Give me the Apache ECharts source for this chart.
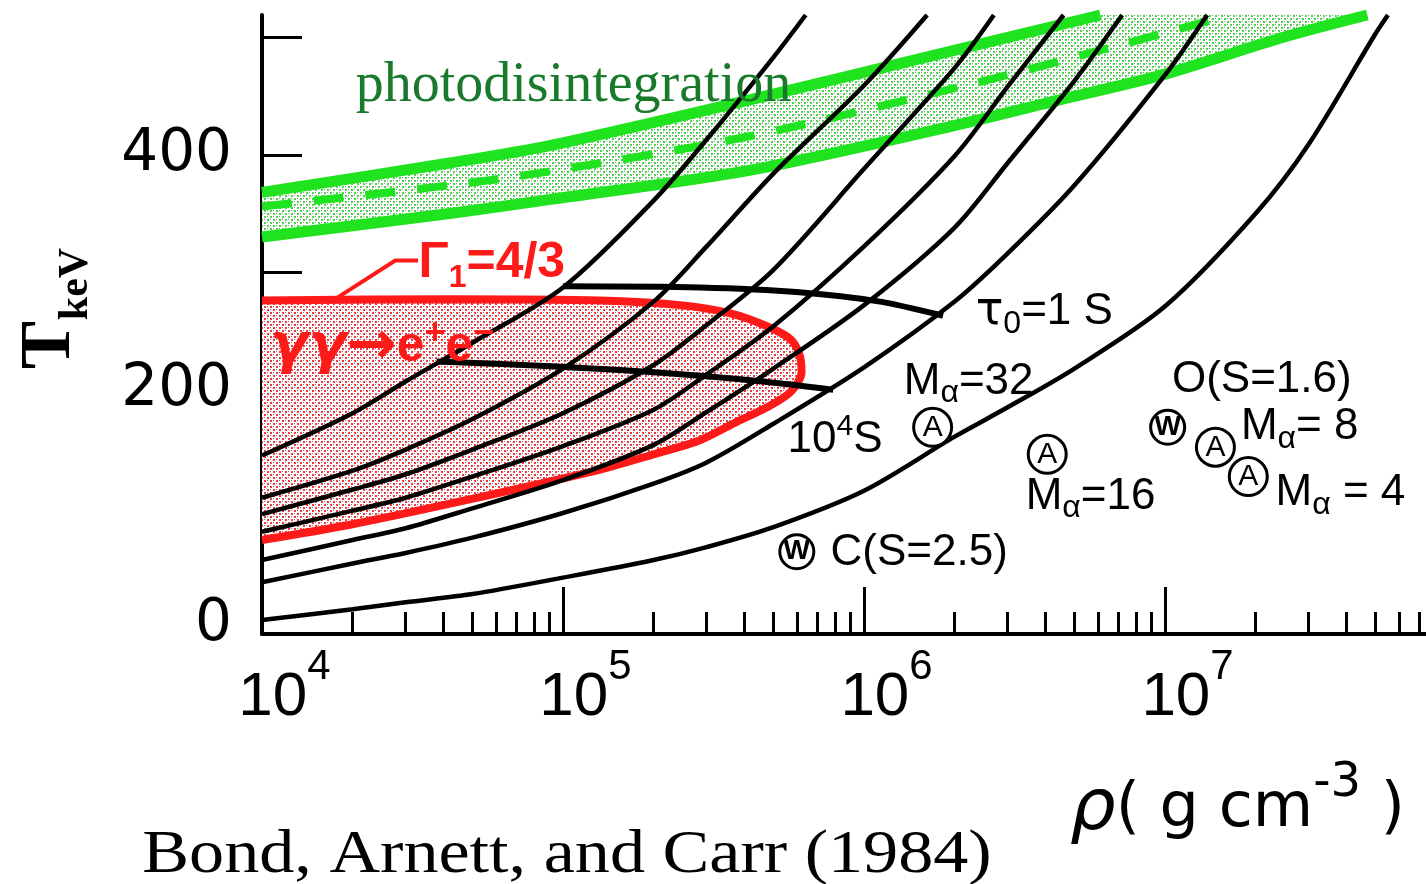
<!DOCTYPE html>
<html>
<head>
<meta charset="utf-8">
<title>Bond, Arnett and Carr (1984)</title>
<script src="https://cdn.jsdelivr.net/npm/echarts@6/dist/echarts.min.js"></script>
<style>
  html, body { margin: 0; padding: 0; background: #fff; }
  #chart { width: 1426px; height: 884px; }
</style>
</head>
<body>
<div id="chart"></div>
<script>
// density rho (g cm^-3) and temperature T (keV)

// core trajectories, top-left to bottom-right
const curve1Rho = [1e4, 2e4, 3e4, 5e4, 1e5, 2e5, 3e5, 5e5, 6.4e5];
const curve1T = [144, 180, 207, 240, 287, 361, 413, 483, 519];
const curve2Rho = [1e4, 2e4, 3e4, 5e4, 1e5, 2e5, 3e5, 5e5, 1e6, 1.62e6];
const curve2T = [108, 131, 149, 175, 218, 275, 322, 384, 459, 519];
const curve3Rho = [1e4, 2e4, 3e4, 5e4, 1e5, 2e5, 3e5, 5e5, 1e6, 2e6, 2.7e6];
const curve3T = [94, 115, 128, 149, 180, 221, 255, 302, 388, 474, 519];
const curve4Rho = [1e4, 2e4, 3e4, 5e4, 1e5, 2e5, 3e5, 5e5, 1e6, 2e6, 3e6, 4.6e6];
const curve4T = [79, 97, 108, 126, 152, 183, 213, 254, 322, 399, 458, 519];
const curve5Rho = [1e4, 2e4, 3e4, 5e4, 1e5, 2e5, 3e5, 5e5, 1e6, 2e6, 3e6, 5e6, 7.2e6];
const curve5T = [55, 72, 82, 99, 123, 153, 181, 218, 272, 338, 393, 463, 519];
const curve6Rho = [1e4, 2e4, 3e4, 5e4, 1e5, 2e5, 3e5, 5e5, 1e6, 2e6, 3e6, 5e6, 1e7, 1.38e7];
const curve6T = [36, 52, 61, 74, 95, 120, 138, 171, 219, 275, 316, 374, 468, 519];
const curve7Rho = [1e4, 2e4, 3e4, 5e4, 1e5, 2e5, 3e5, 5e5, 1e6, 2e6, 3e6, 5e6, 1e7, 2e7, 3e7, 5e7, 5.5e7];
const curve7T = [4, 13, 19, 26, 40, 55, 66, 83, 114, 160, 185, 218, 271, 350, 409, 503, 519];

// time-to-collapse lines
const tauUpperRho = [1e5, 2.85e5, 6.1e5, 1.13e6, 1.83e6];
const tauUpperT = [288, 287, 283, 275, 263];
const tauLowerRho = [3.8e4, 9.1e4, 1.95e5, 4.2e5, 7.9e5];
const tauLowerT = [224, 220, 215, 208, 200];

// photodisintegration band
const photoUpperRho = [1e4, 4.2e4, 9.1e4, 4.2e5, 1.93e6, 6.1e6];
const photoUpperT = [368, 393, 408, 447, 488, 519];
const photoMidRho = [1e4, 4.2e4, 9.1e4, 4.2e5, 2.25e6, 6.1e6, 1.64e7];
const photoMidT = [356, 374, 386, 416, 460, 489, 519];
const photoLowerRho = [1e4, 4.2e4, 9.1e4, 4.2e5, 1.93e6, 4.5e6, 9.8e6, 2.47e7, 4.7e7];
const photoLowerT = [330, 350, 362, 387, 424, 447, 468, 500, 519];

// pair instability region (gamma gamma -> e+ e-)
const pairRho = [1e4, 4.2e4, 1.33e5, 2.45e5, 3.6e5, 4.76e5, 5.7e5, 6.1e5, 6.2e5, 5.7e5, 4.76e5, 3.8e5, 2.85e5, 2.0e5, 1.33e5, 4.4e4, 1.96e4, 1e4];
const pairT = [276, 277, 276, 272, 265, 254, 243, 230, 215, 198, 185, 173, 157, 145, 132, 104, 85, 72];

// Gamma_1 = 4/3 arrow
const arrowRho = [3.3e4, 2.77e4, 1.77e4];
const arrowT = [310, 310, 278];

// circled model points
const aRho = [1.69e6, 4.06e6, 1.47e7, 1.89e7];
const aT = [168, 145, 151, 126];
const wRho = [5.98e5, 1.02e7];
const wT = [62, 168];

// annotations
const noteRho = [2.34e6, 1.35e6, 5.55e5, 3.43e6, 7.71e5, 1.05e7, 1.78e7, 2.32e7];
const noteT = [266, 207, 157, 109, 61, 208, 168, 112];
const noteText = ['{g|τ}{s|0}{t|=1 S}', '{t|M}{s|α}{t|=32}', '{t|10}{p|4}{t|S}', '{t|M}{s|α}{t|=16}',
  '{t|C(S=2.5)}', '{t|O(S=1.6)}', '{t|M}{s|α}{t|= 8}', '{t|M}{s|α}{t| = 4}'];
const redNoteRho = [3.3e4, 1.06e4];
const redNoteT = [308, 236];
const redNoteText = ['{t|Γ}{s|1}{t|=4/3}', '{g|γγ}{a|→}{t|e}{p|+}{t|e}{p|−}'];
const greenNoteRho = [2.04e4];
const greenNoteT = [458];
const greenNoteText = ['photodisintegration'];

// axis ticks
const xMajorTicks = [1e5, 1e6, 1e7];
const xMinorTicks = [2e4, 3e4, 4e4, 5e4, 6e4, 7e4, 8e4, 9e4,
  2e5, 3e5, 4e5, 5e5, 6e5, 7e5, 8e5, 9e5,
  2e6, 3e6, 4e6, 5e6, 6e6, 7e6, 8e6, 9e6,
  2e7, 3e7, 4e7, 5e7, 6e7, 7e7];
const xLabels = [1e4, 1e5, 1e6, 1e7];
const yTicks = [100, 200, 300, 400, 500];
const yLabels = [0, 200, 400];

const pts = (xs, ys) => xs.map((x, i) => [x, ys[i]]);

function dots(main, extra) {
  const cv = document.createElement('canvas');
  cv.width = 6; cv.height = 6;
  const g = cv.getContext('2d');
  g.fillStyle = '#fff'; g.fillRect(0, 0, 6, 6);
  g.fillStyle = main; g.fillRect(0, 0, 2, 2); g.fillRect(3, 3, 2, 2);
  g.fillStyle = extra; g.fillRect(3, 0, 1, 1); g.fillRect(0, 3, 1, 1);
  return cv;
}
const redFill = { image: dots('#f23a3a', '#7d6f8c'), repeat: 'repeat' };
const greenFill = { image: dots('#4cd64c', '#8c8c8c'), repeat: 'repeat' };

function areaSeries(xs, ys, fill, z) {
  return {
    type: 'custom', z: z, silent: true, clip: true,
    data: pts(xs, ys),
    renderItem: function (params, api) {
      if (params.dataIndex !== 0) return null;
      return {
        type: 'polygon',
        shape: { points: xs.map((x, i) => api.coord([x, ys[i]])) },
        style: { fill: fill }
      };
    }
  };
}

function lineSeries(xs, ys, style, z) {
  return {
    type: 'line', data: pts(xs, ys), z: z, smooth: 0.3, symbol: 'none',
    silent: true, lineStyle: style
  };
}

const BLACK = '#000';
const RED = '#ff1a1a';
const GREEN = '#1fe31f';
const SANS = 'Liberation Sans';

const blackCurves = [
  [curve1Rho, curve1T], [curve2Rho, curve2T], [curve3Rho, curve3T], [curve4Rho, curve4T],
  [curve5Rho, curve5T], [curve6Rho, curve6T], [curve7Rho, curve7T]
].map(c => lineSeries(c[0], c[1], { color: BLACK, width: 4.5 }, 10));

const noteRich = {
  t: { fontFamily: SANS, fontSize: 44, lineHeight: 56, color: BLACK },
  s: { fontFamily: SANS, fontSize: 32, lineHeight: 36, verticalAlign: 'bottom', color: BLACK },
  p: { fontFamily: SANS, fontSize: 30, lineHeight: 28, verticalAlign: 'top', color: BLACK },
  g: { fontFamily: 'DejaVu Sans', fontSize: 46, lineHeight: 56, color: BLACK }
};

function textSeries(xs, ys, texts, label, z) {
  return {
    type: 'scatter', z: z, silent: true, symbolSize: 1,
    itemStyle: { color: 'rgba(0,0,0,0)', opacity: 1 },
    data: xs.map((x, i) => ({ value: [x, ys[i]], label: { formatter: texts[i] } })),
    label: Object.assign({ show: true, position: 'right', distance: 0, opacity: 1 }, label)
  };
}

function circleSeries(xs, ys, letter, size, bold) {
  return {
    type: 'scatter', z: 12, silent: true, symbol: 'circle', symbolSize: size,
    data: pts(xs, ys),
    itemStyle: { color: '#fff', borderColor: BLACK, borderWidth: 3, opacity: 1 },
    label: {
      show: true, position: 'inside', formatter: letter, color: BLACK, opacity: 1,
      fontFamily: SANS, fontSize: bold ? 28 : 30, fontWeight: bold ? 'bold' : 'normal'
    }
  };
}

const chart = echarts.init(document.getElementById('chart'), null, { renderer: 'canvas' });

const option = {
  animation: false,
  backgroundColor: '#fff',
  grid: { left: 262, right: 0, top: 15, bottom: 250, containLabel: false },
  xAxis: [
    {
      type: 'log', logBase: 10, min: 1e4, max: 7.36e7, position: 'bottom',
      axisLine: { show: true, onZero: false, lineStyle: { color: BLACK, width: 4 } },
      axisTick: { show: true, inside: true, length: 47, customValues: xMajorTicks, lineStyle: { color: BLACK, width: 3 } },
      axisLabel: {
        show: true, customValues: xLabels, margin: 12, padding: [0, 0, 0, 45],
        formatter: v => '{a|10}{b|' + Math.round(Math.log10(v)) + '}',
        rich: {
          a: { fontFamily: SANS, fontSize: 62, lineHeight: 104, color: BLACK },
          b: { fontFamily: SANS, fontSize: 42, lineHeight: 32, verticalAlign: 'top', color: BLACK }
        }
      },
      splitLine: { show: false }
    },
    {
      type: 'log', logBase: 10, min: 1e4, max: 7.36e7, position: 'bottom',
      axisLine: { show: false, onZero: false },
      axisTick: { show: true, inside: true, length: 22, customValues: xMinorTicks, lineStyle: { color: BLACK, width: 3 } },
      axisLabel: { show: false },
      splitLine: { show: false }
    }
  ],
  yAxis: {
    type: 'value', min: -8, max: 519,
    axisLine: { show: true, onZero: false, lineStyle: { color: BLACK, width: 4 } },
    axisTick: { show: true, inside: true, length: 40, customValues: yTicks, lineStyle: { color: BLACK, width: 3 } },
    axisLabel: { show: true, customValues: yLabels, margin: 30, color: BLACK, fontFamily: 'DejaVu Sans', fontSize: 58 },
    splitLine: { show: false }
  },
  graphic: [
    {
      type: 'text', x: 50, y: 345, rotation: Math.PI / 2,
      style: { text: 'T', fontFamily: 'Liberation Serif', fontWeight: 'bold', fontSize: 72, fill: BLACK, align: 'center', verticalAlign: 'middle' }
    },
    {
      type: 'text', x: 76, y: 284, rotation: Math.PI / 2,
      style: { text: 'keV', fontFamily: 'Liberation Serif', fontWeight: 'bold', fontSize: 42, fill: BLACK, align: 'center', verticalAlign: 'middle' }
    },
    {
      type: 'text', x: 1070, y: 810,
      style: {
        text: '{r|ρ}{t|( g cm}{s|-3}{t| )}', align: 'left', verticalAlign: 'middle',
        rich: {
          r: { fontFamily: 'DejaVu Sans', fontStyle: 'italic', fontSize: 72, lineHeight: 100, fill: BLACK },
          t: { fontFamily: 'DejaVu Sans', fontSize: 62, lineHeight: 100, fill: BLACK },
          s: { fontFamily: 'DejaVu Sans', fontSize: 48, lineHeight: 44, verticalAlign: 'top', fill: BLACK }
        }
      }
    },
    {
      type: 'text', x: 567, y: 856, scaleX: 1.15,
      style: { text: 'Bond, Arnett, and Carr (1984)', fontFamily: 'Liberation Serif', fontSize: 61, fill: BLACK, align: 'center', verticalAlign: 'middle' }
    }
  ],
  series: [
    areaSeries(photoUpperRho.concat(photoLowerRho.slice().reverse()),
      photoUpperT.concat(photoLowerT.slice().reverse()), greenFill, 1),
    lineSeries(photoUpperRho, photoUpperT, { color: GREEN, width: 11 }, 3),
    lineSeries(photoLowerRho, photoLowerT, { color: GREEN, width: 11 }, 3),
    lineSeries(photoMidRho, photoMidT, { color: GREEN, width: 8, type: [30, 22] }, 3),
    areaSeries(pairRho, pairT, redFill, 4),
    lineSeries(pairRho, pairT, { color: RED, width: 8 }, 5),
    {
      type: 'lines', coordinateSystem: 'cartesian2d', polyline: true, z: 6, silent: true,
      symbol: ['none', 'arrow'], symbolSize: 20,
      lineStyle: { color: RED, width: 4, opacity: 1 },
      data: [{ coords: pts(arrowRho, arrowT) }]
    },
    ...blackCurves,
    lineSeries(tauUpperRho, tauUpperT, { color: BLACK, width: 6 }, 11),
    lineSeries(tauLowerRho, tauLowerT, { color: BLACK, width: 6 }, 11),
    circleSeries(aRho, aT, 'A', 38, false),
    circleSeries(wRho, wT, 'W', 34, true),
    textSeries(noteRho, noteT, noteText, { color: BLACK, rich: noteRich }, 13),
    textSeries(redNoteRho, redNoteT, redNoteText, {
      color: RED,
      rich: {
        t: { fontFamily: SANS, fontWeight: 'bold', fontSize: 50, lineHeight: 62, color: RED },
        s: { fontFamily: SANS, fontWeight: 'bold', fontSize: 32, lineHeight: 34, verticalAlign: 'bottom', color: RED },
        p: { fontFamily: SANS, fontWeight: 'bold', fontSize: 36, lineHeight: 30, verticalAlign: 'top', color: RED },
        g: { fontFamily: 'DejaVu Sans', fontStyle: 'italic', fontWeight: 'bold', fontSize: 56, lineHeight: 62, color: RED },
        a: { fontFamily: 'DejaVu Sans', fontWeight: 'bold', fontSize: 60, lineHeight: 62, color: RED }
      }
    }, 13),
    textSeries(greenNoteRho, greenNoteT, greenNoteText, {
      color: '#1a7a2c', fontFamily: 'Liberation Serif', fontSize: 56
    }, 13)
  ]
};

chart.setOption(option);
</script>
</body>
</html>
